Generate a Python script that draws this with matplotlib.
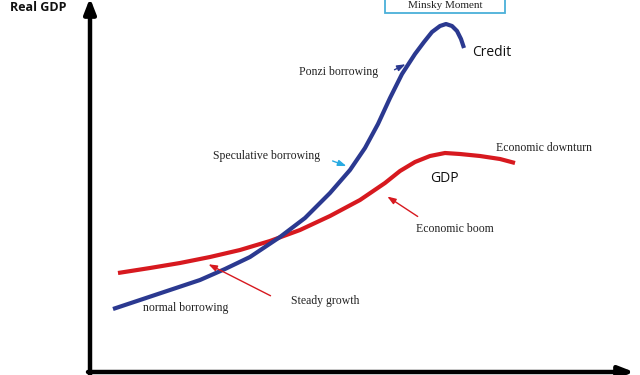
import matplotlib.pyplot as plt
from matplotlib.patches import Rectangle

# curve readings (picture units: x to the right, y downward)
credit_x = [113, 140, 170, 200, 225, 250, 280, 305, 330, 350, 365, 378, 390, 402, 415, 424, 432, 440, 446, 452, 457, 461, 464]
credit_y = [309, 300, 290, 280, 269, 257, 237, 218, 193, 170, 148, 124, 98, 74, 54, 42, 32, 26, 24, 26, 31, 39, 48]

gdp_x = [118, 150, 180, 210, 240, 270, 300, 330, 360, 385, 400, 415, 430, 445, 460, 480, 500, 515]
gdp_y = [273, 268, 263, 257, 250, 241, 230, 216, 200, 183, 171, 162, 156, 153, 154, 156, 159, 163]

# annotations: text, text position, arrow tail, arrow head, arrow colour
notes = [
    ("Ponzi borrowing", (299, 72), (392, 71), (408, 63), "#2b3990"),
    ("Speculative borrowing", (213, 156), (330, 160), (349, 167), "#29abe2"),
    ("Economic boom", (416, 229), (420, 218), (385, 195), "#d7191f"),
    ("Steady growth", (291, 301), (273, 297), (206, 263), "#d7191f"),
    ("normal borrowing", (143, 308), None, None, None),
    ("Economic downturn", (496, 148), None, None, None),
]

blue = "#2b3990"
red = "#d7191f"
serif = "Liberation Serif"

fig = plt.figure(figsize=(6.4, 3.75), dpi=100)
ax = fig.add_axes([0, 0, 1, 1])
ax.set_xlim(0, 640)
ax.set_ylim(375, 0)
ax.axis("off")

# axes with arrows
ax.annotate("", xy=(90, -2), xytext=(90, 376), annotation_clip=False,
            arrowprops=dict(arrowstyle="-|>,head_length=0.9,head_width=0.35", lw=3.2, color="black",
                            shrinkA=0, shrinkB=0))
ax.annotate("", xy=(634, 372), xytext=(88, 372), annotation_clip=False,
            arrowprops=dict(arrowstyle="-|>,head_length=0.9,head_width=0.35", lw=3.2, color="black",
                            shrinkA=0, shrinkB=0))

ax.plot(gdp_x, gdp_y, color=red, lw=3, solid_capstyle="butt", solid_joinstyle="round")
ax.plot(credit_x, credit_y, color=blue, lw=3, solid_capstyle="butt", solid_joinstyle="round")

for text, pos, tail, head, col in notes:
    ax.text(pos[0], pos[1], text, fontsize=8.5, family=serif, color="#222222",
            ha="left", va="center")
    if tail is not None:
        ax.annotate("", xy=head, xytext=tail,
                    arrowprops=dict(arrowstyle="-|>,head_length=0.5,head_width=0.18",
                                    lw=1.0, color=col))

ax.text(472, 53, "Credit", fontsize=10, family="Open Sans", color="#111111", va="center")
ax.text(430, 179, "GDP", fontsize=10, family="Open Sans", color="#111111", va="center")
ax.text(10, 1, "Real GDP", fontsize=9, family="Open Sans", weight="bold", color="#111111", va="top")

ax.add_patch(Rectangle((385, -10), 120, 23, fill=False, edgecolor="#4ab0d9", lw=1.3))
ax.text(445, 1, "Minsky Moment", fontsize=8, family=serif, color="#222222", ha="center", va="top")

fig.savefig("out.png", dpi=100)
plt.close(fig)
